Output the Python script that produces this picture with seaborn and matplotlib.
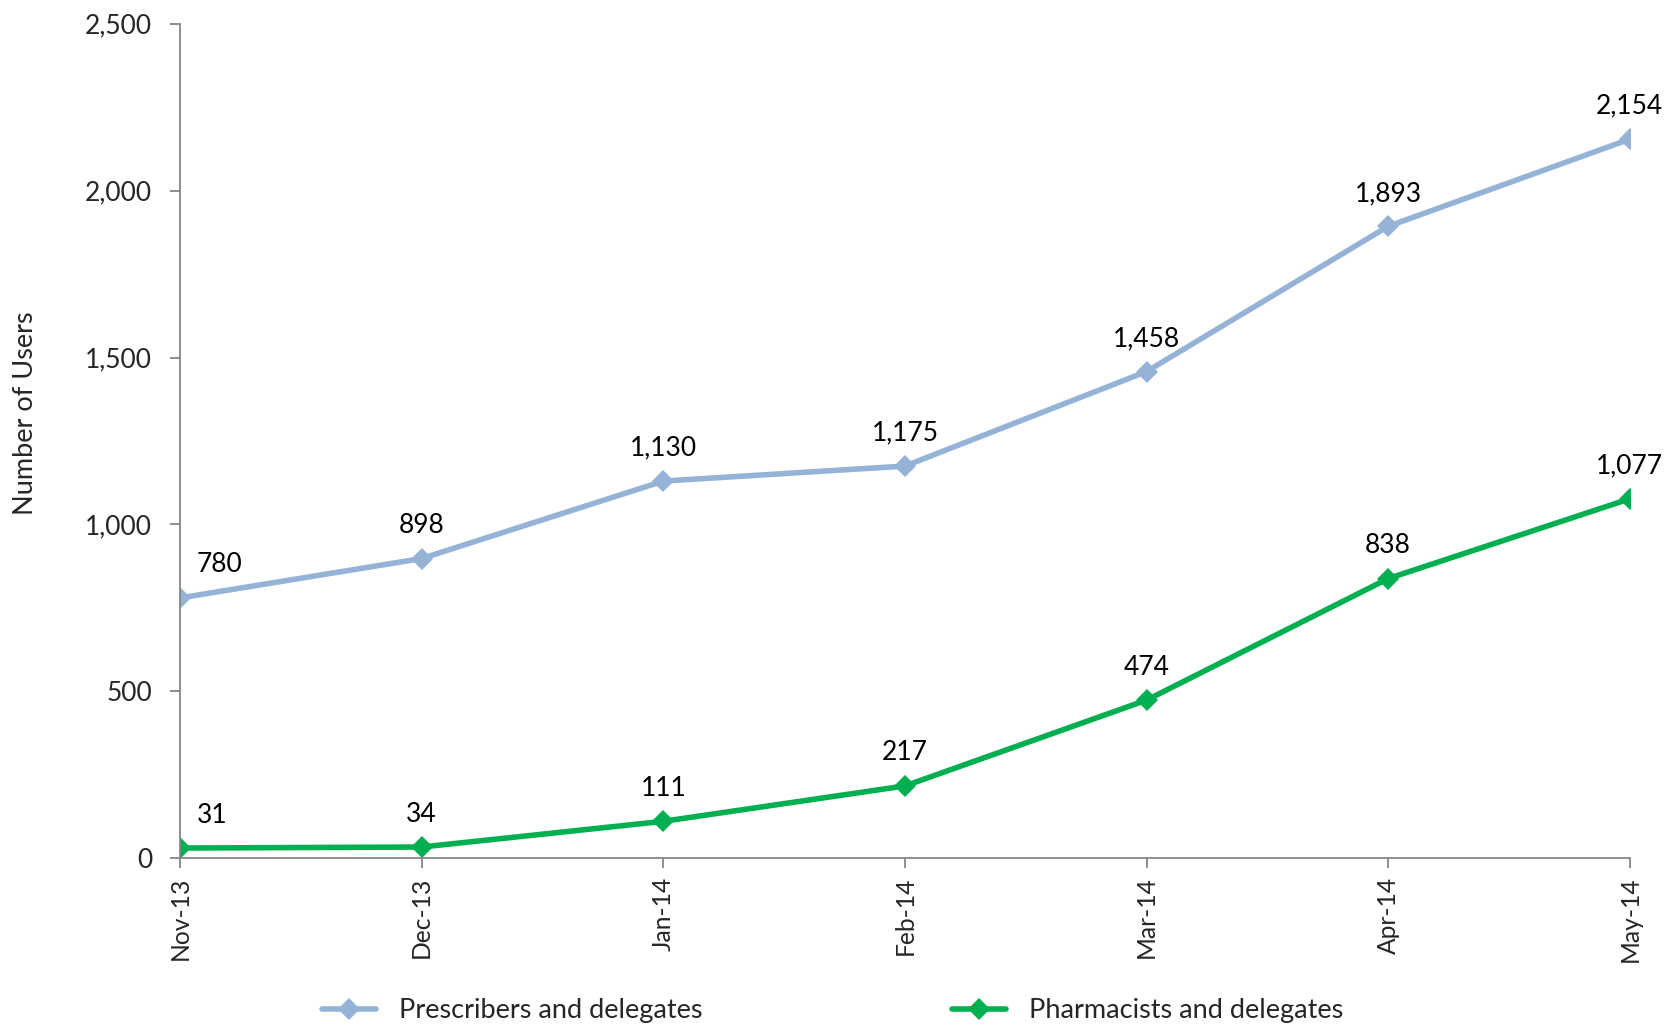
import pandas as pd
import numpy as np
from matplotlib import pyplot as plt
import seaborn as sns

months = ["Nov-13", "Dec-13", "Jan-14", "Feb-14", "Mar-14", "Apr-14", "May-14"]
prescribers = [780, 898, 1130, 1175, 1458, 1893, 2154]
pharmacists = [31, 34, 111, 217, 474, 838, 1077]
series_names = ["Prescribers and delegates", "Pharmacists and delegates"]
colors = ["#95B3D7", "#00B050"]

df = pd.DataFrame({
    "month": months * 2,
    "users": prescribers + pharmacists,
    "series": [series_names[0]] * len(months) + [series_names[1]] * len(months),
})
df["pos"] = list(range(len(months))) * 2

sns.set_style("white")
plt.rcParams['font.family'] = ['Lato', 'DejaVu Sans']

fig = plt.figure(figsize=(16.75, 10.28), dpi=100)
ax = fig.add_axes([0.1075, 0.165, 0.8655, 0.812])

sns.lineplot(ax=ax, data=df, x="pos", y="users", hue="series", palette=colors,
             marker="D", markersize=11, markeredgewidth=0, linewidth=4, sort=False)

# data labels above points (first one pushed inside the plot, like Excel does)
for vals in [prescribers, pharmacists]:
    for i, v in enumerate(vals):
        if i == 0:
            ax.annotate(f"{v:,}", (i, v), xytext=(17, 33), textcoords="offset pixels",
                        ha="left", va="center", fontsize=19, color="black")
        else:
            ax.annotate(f"{v:,}", (i, v), xytext=(0, 33), textcoords="offset pixels",
                        ha="center", va="center", fontsize=19, color="black")

ax.set_xlim(0, len(months) - 1)
ax.set_ylim(0, 2500)
ax.set_xticks(range(len(months)))
ax.set_xticklabels(months, rotation=90, fontsize=17.7)
ax.set_yticks(range(0, 2501, 500))
ax.set_yticklabels([f"{t:,}" for t in range(0, 2501, 500)], fontsize=19)
ax.set_xlabel("")
ax.set_ylabel("Number of Users", fontsize=19.5)
ax.yaxis.set_label_coords(-0.0977, 0.533)

for s in ["top", "right"]:
    ax.spines[s].set_visible(False)
for s in ["left", "bottom"]:
    ax.spines[s].set_color("#868686")
    ax.spines[s].set_linewidth(1.3)
ax.tick_params(axis="both", direction="out", length=7, width=1.3, color="#868686",
               left=True, bottom=True)
ax.tick_params(axis="x", pad=6)
ax.tick_params(axis="y", pad=13)

handles, labels = ax.get_legend_handles_labels()
ax.get_legend().remove()
fig.legend(handles, labels, loc="center", bbox_to_anchor=(0.497, 0.0166), ncol=2,
           frameon=False, fontsize=19.5, columnspacing=9.2, handlelength=2.0, handletextpad=0.85)

fig.savefig("out.png", dpi=100)
